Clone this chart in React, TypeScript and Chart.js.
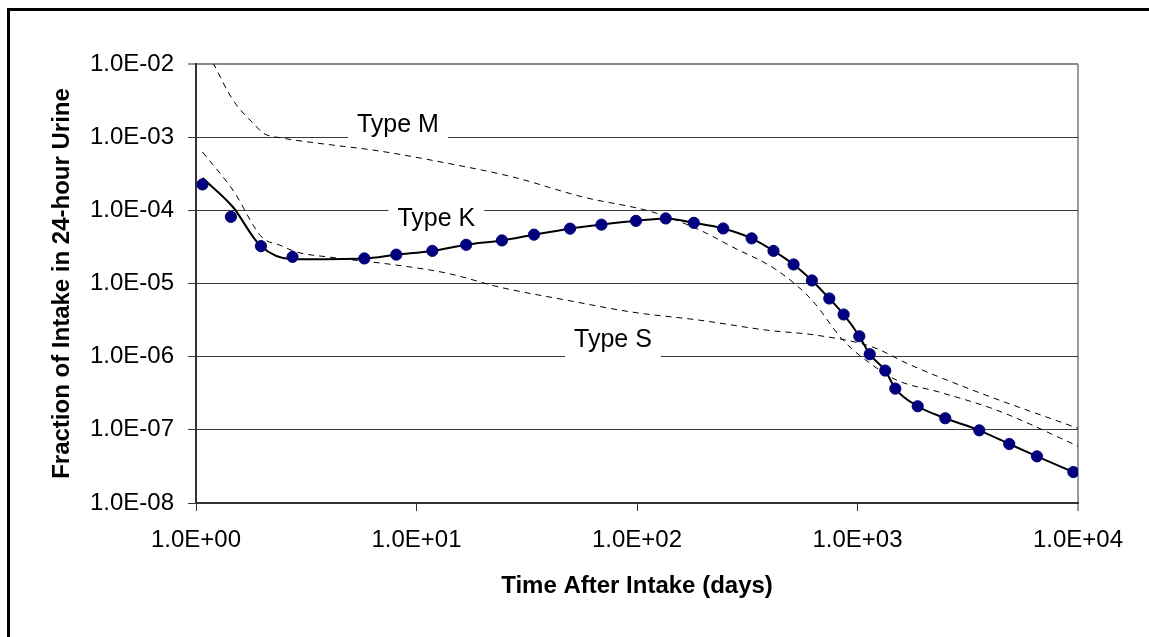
import React, { useEffect, useRef } from "react";
import { Chart, registerables } from "chart.js";

Chart.register(...registerables);

const FONT = '"Liberation Sans", Arial, Helvetica, sans-serif';

// Axis ticks
const xTickValues = [1, 10, 100, 1000, 10000];
const xTickLabels = ["1.0E+00", "1.0E+01", "1.0E+02", "1.0E+03", "1.0E+04"];
const yTickValues = [1e-8, 1e-7, 1e-6, 1e-5, 1e-4, 1e-3, 1e-2];
const yTickLabels = ["1.0E-08", "1.0E-07", "1.0E-06", "1.0E-05", "1.0E-04", "1.0E-03", "1.0E-02"];

// Measured points (Type K)
const kDataTimes = [1.07, 1.44, 1.97, 2.74, 5.8, 8.1, 11.8, 16.8, 24.4, 34.1, 49.7, 69, 98.9, 135, 181, 246, 331, 416, 513, 621, 745, 865, 1019, 1136, 1336, 1484, 1875, 2501, 3567, 4878, 6516, 9525];
const kDataValues = [2.26e-4, 8.15e-5, 3.24e-5, 2.31e-5, 2.2e-5, 2.48e-5, 2.79e-5, 3.38e-5, 3.88e-5, 4.65e-5, 5.62e-5, 6.37e-5, 7.18e-5, 7.75e-5, 6.75e-5, 5.65e-5, 4.14e-5, 2.79e-5, 1.82e-5, 1.1e-5, 6.24e-6, 3.77e-6, 1.9e-6, 1.08e-6, 6.46e-7, 3.66e-7, 2.1e-7, 1.44e-7, 9.84e-8, 6.4e-8, 4.34e-8, 2.65e-8];

// Model curve Type K (solid)
const kModelTimes = [1.07, 1.47, 1.95, 2.75, 5.8, 8.1, 11.8, 16.8, 24.4, 34.1, 49.7, 69, 98.9, 135, 181, 246, 331, 416, 513, 621, 745, 865, 1019, 1136, 1336, 1484, 1875, 2501, 3567, 4878, 6516, 9525];
const kModelValues = [2.76e-4, 1.11e-4, 3.34e-5, 2.15e-5, 2.2e-5, 2.48e-5, 2.79e-5, 3.38e-5, 3.88e-5, 4.65e-5, 5.62e-5, 6.37e-5, 7.18e-5, 7.75e-5, 6.75e-5, 5.65e-5, 4.14e-5, 2.79e-5, 1.82e-5, 1.1e-5, 6.24e-6, 3.77e-6, 1.9e-6, 1.08e-6, 6.46e-7, 3.66e-7, 2.1e-7, 1.44e-7, 9.84e-8, 6.4e-8, 4.34e-8, 2.65e-8];

// Type M (dashed)
const mTimes = [1.07, 1.19, 1.47, 1.89, 2.01, 2.48, 3.54, 6.83, 13.7, 27.4, 56.9, 118, 193, 272, 431, 622, 860, 1175, 1511, 2367, 4293, 10000];
const mValues = [1.9e-2, 1.06e-2, 3.22e-3, 1.37e-3, 1.14e-3, 9.7e-4, 8.3e-4, 6.45e-4, 4.42e-4, 2.85e-4, 1.52e-4, 9.45e-5, 5.36e-5, 3.14e-5, 1.52e-5, 5.91e-6, 1.68e-6, 7.6e-7, 4.75e-7, 3.26e-7, 1.85e-7, 6.0e-8];

// Type S (dashed)
const sTimes = [1.07, 1.47, 1.99, 2.4, 2.87, 4.05, 8.16, 13.8, 23.9, 48.2, 95.9, 193, 389, 655, 1175, 1676, 3342, 10000];
const sValues = [6.27e-4, 1.89e-4, 4.3e-5, 3.34e-5, 2.68e-5, 2.29e-5, 1.78e-5, 1.38e-5, 8.9e-6, 5.9e-6, 4.05e-6, 3.15e-6, 2.3e-6, 1.96e-6, 1.35e-6, 8.1e-7, 3.47e-7, 1.05e-7];

// In-chart labels (anchor: centre x, baseline y)
const typeLabels = ["Type M", "Type K", "Type S"];
const typeLabelTimes = [8.24, 12.3, 77.8];
const typeLabelValues = [1.17e-3, 6.08e-5, 1.35e-6];

const toPoints = (xs: number[], ys: number[]) => xs.map((x, i) => ({ x, y: ys[i] }));

const framePlugin = {
  id: "frame",
  beforeDraw(chart: any) {
    const ctx = chart.ctx;
    ctx.save();
    ctx.fillStyle = "#ffffff";
    ctx.fillRect(0, 0, chart.width, chart.height);
    ctx.fillStyle = "#000000";
    ctx.fillRect(7, 8, chart.width - 7, 3);
    ctx.fillRect(7, 8, 3, chart.height - 8);
    ctx.restore();
  },
};

const typeLabelPlugin = {
  id: "typeLabels",
  beforeDatasetsDraw(chart: any) {
    const ctx = chart.ctx;
    const xs = chart.scales.x;
    const ys = chart.scales.y;
    ctx.save();
    ctx.font = `25px ${FONT}`;
    ctx.textAlign = "center";
    ctx.textBaseline = "alphabetic";
    typeLabels.forEach((txt, i) => {
      const px = xs.getPixelForValue(typeLabelTimes[i]);
      const py = ys.getPixelForValue(typeLabelValues[i]);
      const w = ctx.measureText(txt).width;
      ctx.fillStyle = "#ffffff";
      ctx.fillRect(px - w / 2 - 9, py - 23, w + 18, 36);
      ctx.fillStyle = "#000000";
      ctx.fillText(txt, px, py);
    });
    ctx.restore();
  },
};

export default function App() {
  const ref = useRef<HTMLCanvasElement>(null);

  useEffect(() => {
    const chart = new Chart(ref.current as HTMLCanvasElement, {
      type: "line",
      data: {
        datasets: [
          {
            label: "Type K data",
            data: toPoints(kDataTimes, kDataValues),
            showLine: false,
            pointRadius: 5.6,
            pointBackgroundColor: "#000080",
            pointBorderColor: "#000080",
            pointBorderWidth: 1,
            borderColor: "#000080",
            backgroundColor: "#000080",
          },
          {
            label: "Type K",
            data: toPoints(kModelTimes, kModelValues),
            borderColor: "#000000",
            borderWidth: 2,
            pointRadius: 0,
            cubicInterpolationMode: "monotone",
            fill: false,
          },
          {
            label: "Type M",
            data: toPoints(mTimes, mValues),
            borderColor: "#000000",
            borderWidth: 1,
            borderDash: [6, 5],
            pointRadius: 0,
            cubicInterpolationMode: "monotone",
            fill: false,
          },
          {
            label: "Type S",
            data: toPoints(sTimes, sValues),
            borderColor: "#000000",
            borderWidth: 1,
            borderDash: [6, 5],
            pointRadius: 0,
            cubicInterpolationMode: "monotone",
            fill: false,
          },
        ],
      } as any,
      options: {
        responsive: false,
        devicePixelRatio: 1,
        animation: false,
        layout: { padding: { left: 0, top: 64, right: 71, bottom: 0 } },
        plugins: {
          legend: { display: false },
          tooltip: { enabled: false },
        },
        scales: {
          x: {
            type: "logarithmic",
            min: 1,
            max: 10000,
            afterFit: (s: any) => {
              s.height = 134;
            },
            afterBuildTicks: (s: any) => {
              s.ticks = xTickValues.map((v) => ({ value: v }));
            },
            ticks: {
              autoSkip: false,
              maxRotation: 0,
              padding: 15,
              color: "#000000",
              font: { family: FONT, size: 24, lineHeight: 1.2 },
              callback: (v: any) => {
                const i = xTickValues.indexOf(Number(v));
                return i >= 0 ? xTickLabels[i] : "";
              },
            },
            grid: {
              drawOnChartArea: true,
              color: (c: any) => (c.tick && c.tick.value === 10000 ? "#999999" : "rgba(0,0,0,0)"),
              lineWidth: (c: any) => (c.tick && c.tick.value === 10000 ? 2 : 1),
              tickColor: "#333333",
              tickLength: 8,
              tickWidth: 1,
            },
            border: { display: true, color: "#333333", width: 2 },
            title: {
              display: true,
              text: "Time After Intake (days)",
              color: "#000000",
              font: { family: FONT, size: 24, weight: "bold", lineHeight: 1.2 },
              padding: { top: 0, bottom: 36 },
            },
          },
          y: {
            type: "logarithmic",
            min: 1e-8,
            max: 1e-2,
            afterFit: (s: any) => {
              s.width = 196;
            },
            afterBuildTicks: (s: any) => {
              s.ticks = yTickValues.map((v) => ({ value: v }));
            },
            ticks: {
              autoSkip: false,
              padding: 14,
              color: "#000000",
              font: { family: FONT, size: 24, lineHeight: 1.2 },
              callback: (v: any) => {
                const n = Number(v);
                const i = yTickValues.findIndex((t) => Math.abs(Math.log10(t) - Math.log10(n)) < 1e-6);
                return i >= 0 ? yTickLabels[i] : "";
              },
            },
            grid: {
              color: (c: any) => (c.tick && c.tick.value >= 1e-2 * 0.999 ? "#8a8a8a" : "#3a3a3a"),
              lineWidth: (c: any) => (c.tick && c.tick.value >= 1e-2 * 0.999 ? 2 : 1),
              tickColor: "#333333",
              tickLength: 8,
              tickWidth: 1,
            },
            border: { display: true, color: "#333333", width: 2 },
            title: {
              display: true,
              text: "Fraction of Intake in 24-hour Urine",
              color: "#000000",
              font: { family: FONT, size: 24, weight: "bold", lineHeight: 1.2 },
              padding: { top: 48, bottom: 0 },
            },
          },
        },
      } as any,
      plugins: [framePlugin, typeLabelPlugin],
    });
    return () => chart.destroy();
  }, []);

  return (
    <div style={{ position: "fixed", left: 0, top: 0, width: 1149, height: 637, background: "#ffffff", overflow: "hidden" }}>
      <canvas ref={ref} width={1149} height={637} style={{ display: "block", width: 1149, height: 637 }} />
    </div>
  );
}
